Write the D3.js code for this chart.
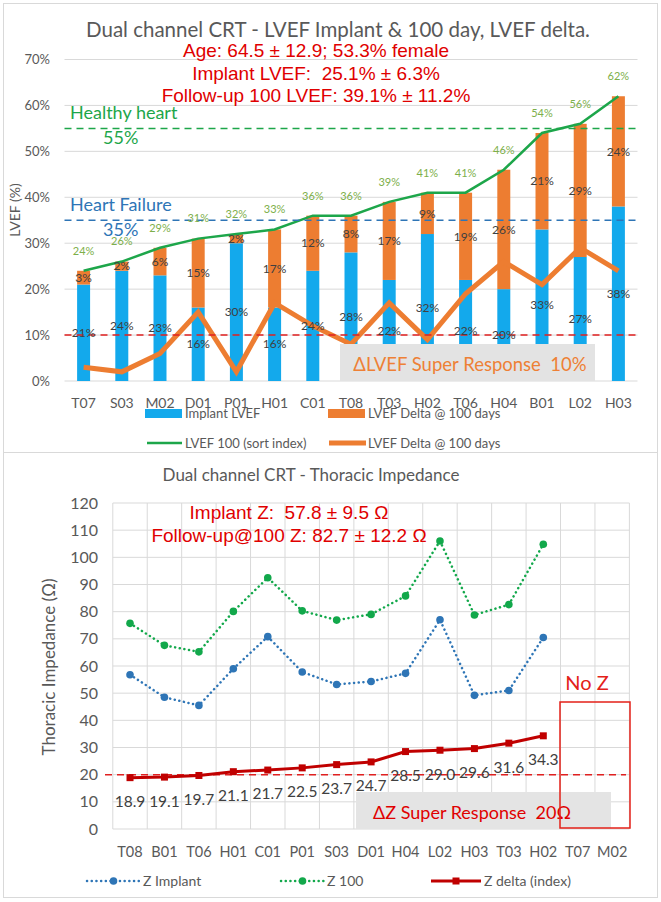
<!DOCTYPE html>
<html>
<head>
<meta charset="utf-8">
<script src="https://cdn.jsdelivr.net/npm/d3@7"></script>
<style>
  body { margin: 0; background: #fff; }
  svg { display: block; }
  text { font-family: Lato, "Open Sans", sans-serif; white-space: pre; }
  .narrow { font-family: "Liberation Sans Narrow", "Arial Narrow", "Liberation Sans", sans-serif; }
</style>
</head>
<body>
<div id="chart"></div>
<script>
// ---- top chart data (LVEF) ----
const lvefCats = ["T07","S03","M02","D01","P01","H01","C01","T08","T03","H02","T06","H04","B01","L02","H03"];
const lvefImplant = [21,24,23,16,30,16,24,28,22,32,22,20,33,27,38];
const lvefDelta   = [3,2,6,15,2,17,12,8,17,9,19,26,21,29,24];
const lvef100     = [24,26,29,31,32,33,36,36,39,41,41,46,54,56,62];
const lvefTicks   = [0,10,20,30,40,50,60,70];

// ---- bottom chart data (thoracic impedance) ----
const zCats    = ["T08","B01","T06","H01","C01","P01","S03","D01","H04","L02","H03","T03","H02","T07","M02"];
const zImplant = [56.8,48.5,45.5,59.0,70.8,57.8,53.2,54.3,57.3,77.0,49.2,51.0,70.5];
const z100     = [75.7,67.6,65.2,80.1,92.5,80.3,76.9,79.0,85.8,106.0,78.8,82.6,104.8];
const zDelta   = [18.9,19.1,19.7,21.1,21.7,22.5,23.7,24.7,28.5,29.0,29.6,31.6,34.3];
const zTicks   = [0,10,20,30,40,50,60,70,80,90,100,110,120];

const width = 661, height = 902;
const grey = "#595959", grid = "#D9D9D9", red = "#E00000";

const svg = d3.select("#chart").append("svg")
  .attr("width", width).attr("height", height);

// panel frames
svg.append("rect").attr("x", 3.5).attr("y", 3.5).attr("width", 654).attr("height", 449)
  .attr("fill", "none").attr("stroke", grid);
svg.append("rect").attr("x", 3.5).attr("y", 452.5).attr("width", 654).attr("height", 445)
  .attr("fill", "none").attr("stroke", grid);

// ================= TOP CHART =================
{
  const g = svg.append("g");
  const x = d3.scaleBand().domain(lvefCats).range([64.5, 637.5])
    .paddingInner(0.66).paddingOuter(0.33);
  const y = d3.scaleLinear().domain([0, 70]).range([381, 59.5]);
  const cx = c => x(c) + x.bandwidth() / 2;

  // gridlines
  g.selectAll(".grid").data(lvefTicks).enter().append("line")
    .attr("x1", 64.5).attr("x2", 637.5)
    .attr("y1", d => y(d)).attr("y2", d => y(d))
    .attr("stroke", grid).attr("stroke-width", 1);

  // y axis labels
  g.selectAll(".yt").data(lvefTicks).enter().append("text")
    .attr("x", 50).attr("y", d => y(d)).attr("dy", "0.35em")
    .attr("text-anchor", "end").attr("font-size", 13).attr("fill", grey)
    .text(d => d + "%");

  g.append("text").attr("transform", "translate(20,210) rotate(-90)")
    .attr("text-anchor", "middle").attr("font-size", 14).attr("fill", grey)
    .text("LVEF (%)");

  // x axis labels
  g.selectAll(".xt").data(lvefCats).enter().append("text")
    .attr("x", cx).attr("y", 403).attr("dy", "0.35em")
    .attr("text-anchor", "middle").attr("font-size", 14).attr("fill", grey)
    .text(d => d);

  // stacked bars
  g.selectAll(".imp").data(lvefCats).enter().append("rect")
    .attr("x", c => x(c)).attr("width", x.bandwidth())
    .attr("y", (c, i) => y(lvefImplant[i]))
    .attr("height", (c, i) => y(0) - y(lvefImplant[i]))
    .attr("fill", "#13A9EC");
  g.selectAll(".dlt").data(lvefCats).enter().append("rect")
    .attr("x", c => x(c)).attr("width", x.bandwidth())
    .attr("y", (c, i) => y(lvefImplant[i] + lvefDelta[i]))
    .attr("height", (c, i) => y(lvefImplant[i]) - y(lvefImplant[i] + lvefDelta[i]))
    .attr("fill", "#ED7D31");

  // lines
  const line = d3.line().x(d => cx(d.c)).y(d => y(d.v));
  g.append("path")
    .datum(lvefCats.map((c, i) => ({ c, v: lvef100[i] })))
    .attr("d", line).attr("fill", "none")
    .attr("stroke", "#1DA64A").attr("stroke-width", 2.5);
  g.append("path")
    .datum(lvefCats.map((c, i) => ({ c, v: lvefDelta[i] })))
    .attr("d", line).attr("fill", "none")
    .attr("stroke", "#ED7D31").attr("stroke-width", 5).attr("stroke-linejoin", "miter");

  // reference lines
  const refs = [
    { v: 55, color: "#1DA64A" },
    { v: 35, color: "#2E75B6" },
    { v: 10, color: "#E02020" }
  ];
  g.selectAll(".ref").data(refs).enter().append("line")
    .attr("x1", 64.5).attr("x2", 637.5)
    .attr("y1", d => y(d.v)).attr("y2", d => y(d.v))
    .attr("stroke", d => d.color).attr("stroke-width", 1.5)
    .attr("stroke-dasharray", "7,5");

  // value labels
  g.selectAll(".limp").data(lvefCats).enter().append("text")
    .attr("x", cx).attr("y", (c, i) => y(lvefImplant[i] / 2)).attr("dy", "0.35em")
    .attr("text-anchor", "middle").attr("font-size", 12).attr("fill", "#404040")
    .text((c, i) => lvefImplant[i] + "%");
  g.selectAll(".ldlt").data(lvefCats).enter().append("text")
    .attr("x", cx).attr("y", (c, i) => y(lvefImplant[i] + lvefDelta[i] / 2)).attr("dy", "0.35em")
    .attr("text-anchor", "middle").attr("font-size", 12).attr("fill", "#404040")
    .text((c, i) => lvefDelta[i] + "%");
  g.selectAll(".l100").data(lvefCats).enter().append("text")
    .attr("x", cx).attr("y", (c, i) => y(lvef100[i]) - 20).attr("dy", "0.35em")
    .attr("text-anchor", "middle").attr("font-size", 11).attr("fill", "#7DAF4A")
    .text((c, i) => lvef100[i] + "%");

  // reference annotations
  g.append("text").attr("x", 70).attr("y", 113).attr("dy", "0.35em")
    .attr("font-size", 18).attr("fill", "#1DA64A").text("Healthy heart");
  g.append("text").attr("x", 103).attr("y", 138).attr("dy", "0.35em")
    .attr("font-size", 18).attr("fill", "#1DA64A").text("55%");
  g.append("text").attr("x", 70).attr("y", 205).attr("dy", "0.35em")
    .attr("font-size", 18).attr("fill", "#2E75B6").text("Heart Failure");
  g.append("text").attr("x", 103).attr("y", 230).attr("dy", "0.35em")
    .attr("font-size", 18).attr("fill", "#2E75B6").text("35%");

  // super response box
  g.append("rect").attr("x", 340).attr("y", 344).attr("width", 255).attr("height", 37)
    .attr("fill", "#E3E3E3");
  g.append("text").attr("x", 470).attr("y", 365).attr("dy", "0.35em")
    .attr("text-anchor", "middle").attr("font-size", 18.5).attr("fill", "#EE8035")
    .text("\u0394LVEF Super Response  10%");

  // titles
  g.append("text").attr("x", 338).attr("y", 30).attr("dy", "0.35em")
    .attr("text-anchor", "middle").attr("font-size", 20.5).attr("fill", grey)
    .text("Dual channel CRT - LVEF Implant & 100 day, LVEF delta.");
  const notes = [
    { t: "Age: 64.5 \u00B1 12.9; 53.3% female", y: 50 },
    { t: "Implant LVEF:  25.1% \u00B1 6.3%", y: 73 },
    { t: "Follow-up 100 LVEF: 39.1% \u00B1 11.2%", y: 95 }
  ];
  g.selectAll(".note").data(notes).enter().append("text")
    .attr("class", "narrow")
    .attr("x", 316).attr("y", d => d.y).attr("dy", "0.35em")
    .attr("text-anchor", "middle").attr("font-size", 19).attr("fill", red)
    .text(d => d.t);

  // legend
  const lg = g.append("g").attr("font-size", 13).attr("fill", grey);
  lg.append("rect").attr("x", 145).attr("y", 409).attr("width", 37).attr("height", 9).attr("fill", "#13A9EC");
  lg.append("text").attr("x", 185).attr("y", 413).attr("dy", "0.35em").text("Implant LVEF");
  lg.append("rect").attr("x", 328).attr("y", 409).attr("width", 37).attr("height", 9).attr("fill", "#ED7D31");
  lg.append("text").attr("x", 368).attr("y", 413).attr("dy", "0.35em").text("LVEF Delta @ 100 days");
  lg.append("line").attr("x1", 147).attr("x2", 182).attr("y1", 443).attr("y2", 443)
    .attr("stroke", "#1DA64A").attr("stroke-width", 2.5);
  lg.append("text").attr("x", 185).attr("y", 443).attr("dy", "0.35em").text("LVEF 100 (sort index)");
  lg.append("line").attr("x1", 329).attr("x2", 366).attr("y1", 443).attr("y2", 443)
    .attr("stroke", "#ED7D31").attr("stroke-width", 5);
  lg.append("text").attr("x", 368).attr("y", 443).attr("dy", "0.35em").text("LVEF Delta @ 100 days");
}

// ================= BOTTOM CHART =================
{
  const g = svg.append("g");
  const x = d3.scaleBand().domain(zCats).range([112.8, 629.4]);
  const y = d3.scaleLinear().domain([0, 120]).range([829, 503]);
  const cx = c => x(c) + x.bandwidth() / 2;

  // gridlines
  g.selectAll(".hg").data(zTicks).enter().append("line")
    .attr("x1", 112.8).attr("x2", 629.4)
    .attr("y1", d => y(d)).attr("y2", d => y(d))
    .attr("stroke", grid);
  const bounds = d3.range(zCats.length + 1).map(i => 112.8 + i * x.step());
  g.selectAll(".vg").data(bounds).enter().append("line")
    .attr("x1", d => d).attr("x2", d => d)
    .attr("y1", y(120)).attr("y2", y(0))
    .attr("stroke", grid);

  // axes labels
  g.selectAll(".yt").data(zTicks).enter().append("text")
    .attr("x", 98).attr("y", d => y(d)).attr("dy", "0.35em")
    .attr("text-anchor", "end").attr("font-size", 16).attr("fill", grey)
    .text(d => d);
  g.append("text").attr("transform", "translate(55,667) rotate(-90)")
    .attr("text-anchor", "middle").attr("font-size", 17).attr("fill", grey)
    .text("Thoracic Impedance (\u03A9)");
  g.selectAll(".xt").data(zCats).enter().append("text")
    .attr("x", cx).attr("y", 852).attr("dy", "0.35em")
    .attr("text-anchor", "middle").attr("font-size", 14.5).attr("fill", grey)
    .text(d => d);

  // super response box
  g.append("rect").attr("x", 356).attr("y", 792).attr("width", 255).attr("height", 37)
    .attr("fill", "#E4E4E4");
  g.append("text").attr("x", 472).attr("y", 813).attr("dy", "0.35em")
    .attr("text-anchor", "middle").attr("font-size", 18).attr("fill", red)
    .text("\u0394Z Super Response  20\u03A9");

  // 20 ohm reference
  g.append("line").attr("x1", 105).attr("x2", 626)
    .attr("y1", y(20)).attr("y2", y(20))
    .attr("stroke", "#E02020").attr("stroke-width", 1.5).attr("stroke-dasharray", "7,5");

  // no Z box
  g.append("rect").attr("x", 560).attr("y", 702).attr("width", 70).attr("height", 126)
    .attr("fill", "none").attr("stroke", "#E32119").attr("stroke-width", 1.5);
  g.append("text").attr("x", 587).attr("y", 683).attr("dy", "0.35em")
    .attr("text-anchor", "middle").attr("font-size", 20).attr("fill", "#E32119")
    .text("No Z");

  const line = d3.line().x(d => cx(d.c)).y(d => y(d.v));
  const series = [
    { vals: zImplant, color: "#2E75B6" },
    { vals: z100, color: "#12A84B" }
  ];
  series.forEach(s => {
    const pts = s.vals.map((v, i) => ({ c: zCats[i], v }));
    g.append("path").datum(pts).attr("d", line).attr("fill", "none")
      .attr("stroke", s.color).attr("stroke-width", 2.5)
      .attr("stroke-dasharray", "0.1,4.6").attr("stroke-linecap", "round");
    g.selectAll(null).data(pts).enter().append("circle")
      .attr("cx", d => cx(d.c)).attr("cy", d => y(d.v)).attr("r", 3.8)
      .attr("fill", s.color);
  });

  const dpts = zDelta.map((v, i) => ({ c: zCats[i], v }));
  g.append("path").datum(dpts).attr("d", line).attr("fill", "none")
    .attr("stroke", "#C00000").attr("stroke-width", 3);
  g.selectAll(".sq").data(dpts).enter().append("rect")
    .attr("x", d => cx(d.c) - 3.5).attr("y", d => y(d.v) - 3.5)
    .attr("width", 7).attr("height", 7).attr("fill", "#C00000");
  g.selectAll(".dl").data(dpts).enter().append("text")
    .attr("x", d => cx(d.c)).attr("y", d => y(d.v) + 24).attr("dy", "0.35em")
    .attr("text-anchor", "middle").attr("font-size", 15.5).attr("fill", "#404040")
    .text(d => d.v.toFixed(1));

  // titles
  g.append("text").attr("x", 311).attr("y", 475).attr("dy", "0.35em")
    .attr("text-anchor", "middle").attr("font-size", 17).attr("fill", grey)
    .text("Dual channel CRT - Thoracic Impedance");
  const notes = [
    { t: "Implant Z:  57.8 \u00B1 9.5 \u03A9", y: 512 },
    { t: "Follow-up@100 Z: 82.7 \u00B1 12.2 \u03A9", y: 535 }
  ];
  g.selectAll(".note").data(notes).enter().append("text")
    .attr("class", "narrow")
    .attr("x", 289).attr("y", d => d.y).attr("dy", "0.35em")
    .attr("text-anchor", "middle").attr("font-size", 19).attr("fill", red)
    .text(d => d.t);

  // legend
  const lg = g.append("g").attr("font-size", 14).attr("fill", grey);
  const items = [
    { x0: 87, x1: 140, label: "Z Implant", color: "#2E75B6", kind: "dot" },
    { x0: 281, x1: 324, label: "Z 100", color: "#12A84B", kind: "dot" },
    { x0: 431, x1: 481, label: "Z delta (index)", color: "#C00000", kind: "sq" }
  ];
  items.forEach(it => {
    const ly = 881, mid = (it.x0 + it.x1) / 2;
    const ln = lg.append("line").attr("x1", it.x0).attr("x2", it.x1)
      .attr("y1", ly).attr("y2", ly).attr("stroke", it.color);
    if (it.kind === "dot") {
      ln.attr("stroke-width", 2.5).attr("stroke-dasharray", "0.1,4.6").attr("stroke-linecap", "round");
      lg.append("circle").attr("cx", mid).attr("cy", ly).attr("r", 3.8).attr("fill", it.color);
    } else {
      ln.attr("stroke-width", 3);
      lg.append("rect").attr("x", mid - 3.5).attr("y", ly - 3.5).attr("width", 7).attr("height", 7).attr("fill", it.color);
    }
    lg.append("text").attr("x", it.x1 + 3).attr("y", ly).attr("dy", "0.35em").text(it.label);
  });
}
</script>
</body>
</html>
